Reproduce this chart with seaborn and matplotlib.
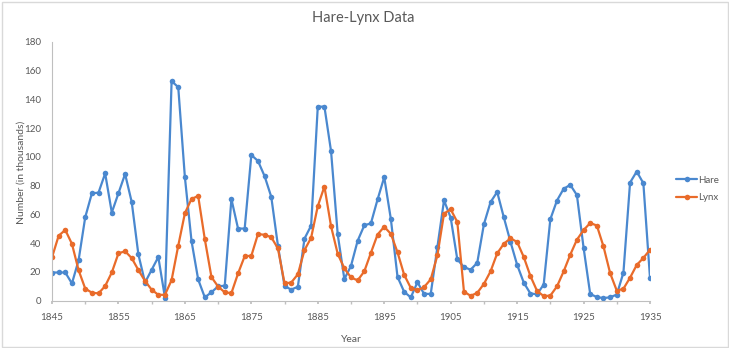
import numpy as np
import pandas as pd
import matplotlib
matplotlib.use("Agg")
import matplotlib.pyplot as plt
import seaborn as sns
from matplotlib.ticker import FixedLocator

years = list(range(1845, 1936))
hare = [19.58, 19.6, 19.61, 11.99, 28.04, 58.0, 74.6, 75.09, 88.48, 61.28,
        74.67, 88.06, 68.51, 32.19, 12.64, 21.49, 30.35, 2.18, 152.65, 148.36,
        85.81, 41.41, 14.75, 2.28, 5.91, 9.95, 10.44, 70.64, 50.12, 50.13,
        101.25, 97.12, 86.51, 72.17, 38.32, 10.11, 7.74, 9.67, 43.12, 52.21,
        134.85, 134.86, 103.79, 46.1, 15.03, 24.2, 41.65, 52.34, 53.78, 70.4,
        85.81, 56.69, 16.59, 6.16, 2.3, 12.82, 4.72, 4.73, 37.22, 69.72,
        57.78, 28.68, 23.37, 21.54, 26.34, 53.1, 68.48, 75.58, 57.92, 40.97,
        24.95, 12.59, 4.97, 4.5, 11.21, 56.6, 69.63, 77.74, 80.53, 73.38,
        36.93, 4.64, 2.54, 1.8, 2.39, 4.23, 19.52, 82.11, 89.76, 81.66, 15.76]
lynx = [30.09, 45.15, 49.15, 39.52, 21.23, 8.42, 5.56, 5.08, 10.17, 19.6,
        32.91, 34.38, 29.59, 21.3, 13.69, 7.65, 4.08, 4.09, 14.33, 38.22,
        60.78, 70.77, 72.77, 42.68, 16.39, 9.83, 5.8, 5.26, 18.91, 30.95,
        31.18, 46.34, 45.77, 44.15, 36.33, 12.03, 12.6, 18.34, 35.14, 43.77,
        65.69, 79.35, 51.65, 32.59, 22.45, 16.16, 14.12, 20.38, 33.33, 46.0,
        51.41, 46.43, 33.68, 18.01, 8.86, 7.13, 9.47, 14.86, 31.47, 60.57,
        63.51, 54.7, 6.3, 3.41, 5.44, 11.65, 20.35, 32.88, 39.55, 43.36,
        40.83, 30.36, 17.18, 6.82, 3.19, 3.52, 9.94, 20.3, 31.99, 42.36,
        49.08, 53.99, 52.25, 37.7, 19.14, 6.98, 8.31, 16.01, 24.82, 29.7, 35.4]

series_names = ["Hare", "Lynx"]
colors = ["#4A88CF", "#E96B2A"]
x_major = list(range(1845, 1936, 10))
x_minor = list(range(1845, 1936, 5))
y_ticks = list(range(0, 181, 20))

df = pd.DataFrame({"Year": years, "Hare": hare, "Lynx": lynx})
long = df.melt(id_vars="Year", value_vars=series_names, var_name="Series", value_name="Number")

sns.set_theme(style="white")
plt.rcParams["font.family"] = ["Lato", "DejaVu Sans"]
txt = "#595959"

fig = plt.figure(figsize=(7.29, 3.48), dpi=100)
ax = fig.add_axes([52/729, 1 - 300.7/348, (650 - 52)/729, (300.7 - 41.7)/348])

sns.lineplot(data=long, x="Year", y="Number", hue="Series", palette=colors,
             marker="o", markersize=4, markeredgewidth=0, linewidth=1.6,
             ax=ax, legend=True)

ax.set_xlim(1845, 1935)
ax.set_ylim(0, 180)
ax.xaxis.set_major_locator(FixedLocator(x_major))
ax.xaxis.set_minor_locator(FixedLocator(x_minor))
ax.set_yticks(y_ticks)
ax.tick_params(axis="x", which="both", direction="out", length=2.5, color="#BFBFBF",
               labelsize=7, labelcolor=txt, bottom=True, pad=6)
ax.tick_params(axis="y", which="both", length=0, labelsize=7, labelcolor=txt, pad=8)
for s in ["top", "right"]:
    ax.spines[s].set_visible(False)
for s in ["left", "bottom"]:
    ax.spines[s].set_color("#BFBFBF")
    ax.spines[s].set_linewidth(0.8)
ax.grid(False)

ax.set_xlabel("Year", fontsize=7.5, color=txt, labelpad=10)
ax.set_ylabel("Number (in thousands)", fontsize=7.5, color=txt)
ax.yaxis.label.set_verticalalignment("center")
ax.yaxis.set_label_coords(21/729, 1 - 172/348, transform=fig.transFigure)
fig.text(363/729, 1 - 18/348, "Hare-Lynx Data", ha="center", va="center",
         fontsize=10.5, color=txt)

h, l = ax.get_legend_handles_labels()
ax.legend(h, l, loc="center left", bbox_to_anchor=(676/729, 1 - 189/348),
          bbox_transform=fig.transFigure, frameon=False, fontsize=7,
          labelcolor=txt, handlelength=2.2, handletextpad=0.05, labelspacing=0.85,
          borderaxespad=0, borderpad=0)

fig.patches.append(plt.Rectangle((1.5/729, 1.5/348), 1 - 3/729, 1 - 3/348,
                                 transform=fig.transFigure, fill=False,
                                 edgecolor="#D9D9D9", linewidth=1))

fig.savefig("out.png", dpi=100, facecolor="white")
